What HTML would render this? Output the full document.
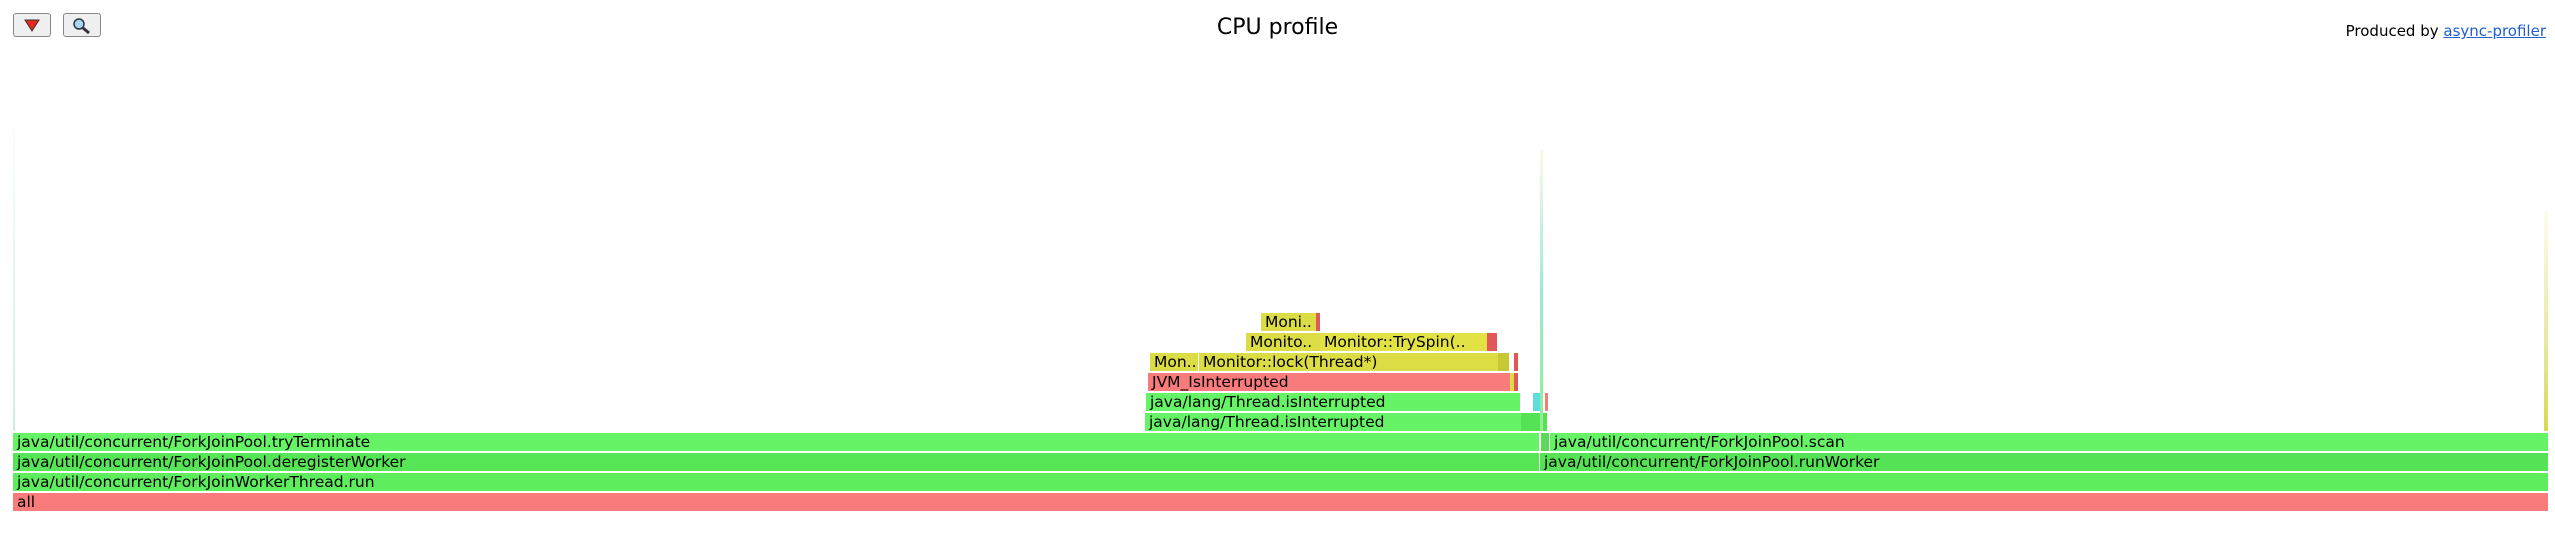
<!DOCTYPE html>
<html><head><meta charset="utf-8"><style>
body{margin:0;width:2555px;height:540px;background:#fff;position:relative;overflow:hidden;font-family:"DejaVu Sans","Liberation Sans",sans-serif}
.f{position:absolute;height:18px;font-size:15.5px;line-height:18px;padding-left:4px;box-sizing:border-box;white-space:nowrap;overflow:hidden;color:#000}
.btn{position:absolute;top:13px;width:38px;height:24px;border:1px solid #888;border-radius:3px;background:#efefef;box-sizing:border-box}
.g{background:#66f466}.g2{background:#55e355}.g3{background:#5ded5d}.r{background:#fa7b7b}.y{background:#dcdc44}.y2{background:#c8c834}.rd{background:#e05858}.c{background:#5ddddd}
</style></head><body>
<div class="btn" style="left:13px"><svg width="36" height="22"><polygon points="11,6 25,6 18,17" fill="#e8281a" stroke="#333" stroke-width="1"/></svg></div>
<div class="btn" style="left:63px"><svg width="36" height="22"><circle cx="15" cy="10" r="5" fill="#a8d8f0" stroke="#334" stroke-width="1.5"/><line x1="19" y1="14" x2="25" y2="19" stroke="#334" stroke-width="3"/></svg></div>
<div style="position:absolute;left:0;width:2555px;top:15px;text-align:center;font-size:22px">CPU profile</div>
<div style="position:absolute;right:9px;top:22px;font-size:15px">Produced by <span style="color:#2060d0;text-decoration:underline">async-profiler</span></div>

<div class="f r" style="left:13px;width:2535px;top:493px">all</div>
<div class="f g3" style="left:13px;width:2535px;top:473px">java/util/concurrent/ForkJoinWorkerThread.run</div>
<div class="f g2" style="left:13px;width:1526px;top:453px;background:#55e555">java/util/concurrent/ForkJoinPool.deregisterWorker</div>
<div class="f g2" style="left:1540px;width:1008px;top:453px">java/util/concurrent/ForkJoinPool.runWorker</div>
<div class="f g" style="left:13px;width:1526px;top:433px">java/util/concurrent/ForkJoinPool.tryTerminate</div>
<div class="f g" style="left:1550px;width:998px;top:433px">java/util/concurrent/ForkJoinPool.scan</div>
<div class="f g" style="left:1541px;width:8px;top:433px;background:#5dd85d"></div>

<div class="f g" style="left:1145px;width:376px;top:413px">java/lang/Thread.isInterrupted</div>
<div class="f g2" style="left:1521px;width:26px;top:413px"></div>
<div class="f g" style="left:1146px;width:374px;top:393px">java/lang/Thread.isInterrupted</div>
<div class="f c" style="left:1533px;width:7px;top:393px"></div>
<div class="f r" style="left:1545px;width:3px;top:393px;padding:0"></div>
<div class="f r" style="left:1148px;width:362px;top:373px">JVM_IsInterrupted</div>
<div class="f y" style="left:1510px;width:4px;top:373px;padding:0"></div>
<div class="f rd" style="left:1514px;width:4px;top:373px;padding:0"></div>
<div class="f y" style="left:1150px;width:48px;top:353px">Mon..</div>
<div class="f y" style="left:1199px;width:299px;top:353px">Monitor::lock(Thread*)</div>
<div class="f y2" style="left:1498px;width:11px;top:353px;padding:0"></div>
<div class="f rd" style="left:1514px;width:4px;top:353px;padding:0"></div>
<div class="f y" style="left:1246px;width:74px;top:333px">Monito..</div>
<div class="f y" style="left:1320px;width:167px;top:333px;background:#e2e244">Monitor::TrySpin(..</div>
<div class="f rd" style="left:1487px;width:10px;top:333px;padding:0"></div>
<div class="f y" style="left:1261px;width:55px;top:313px">Moni..</div>
<div class="f rd" style="left:1316px;width:4px;top:313px;padding:0"></div>

<div style="position:absolute;left:1540px;top:150px;width:3px;height:281px;background:linear-gradient(#fbfbe8,#9de8d8 50%,#8ef08e)"></div>
<div style="position:absolute;left:2544px;top:210px;width:4px;height:221px;background:linear-gradient(#fdfdf0,#e8e8a0 60%,#d8d850)"></div>
<div style="position:absolute;left:13px;top:100px;width:2px;height:331px;background:linear-gradient(#fff,#c8f0e0)"></div>
</body></html>
